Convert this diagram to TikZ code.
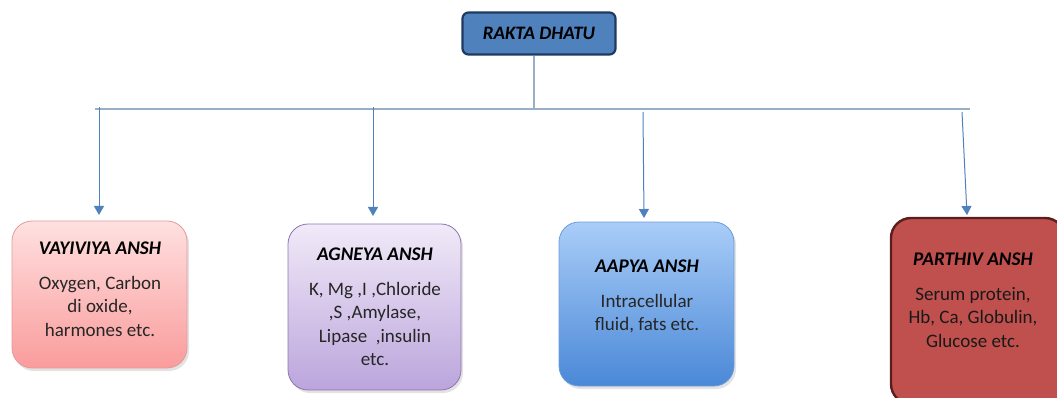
\documentclass[tikz,border=0pt]{standalone}
\usepackage{fontspec}
\setmainfont{Carlito}
\usetikzlibrary{arrows.meta,shadows}
\definecolor{topfill}{HTML}{4F81BD}
\definecolor{topdraw}{HTML}{1F3A60}
\definecolor{linegray}{HTML}{98AFC6}
\definecolor{dropblue}{HTML}{4F81BD}
\definecolor{pinktop}{HTML}{FFE0E0}
\definecolor{pinkbot}{HTML}{FA9C9C}
\definecolor{pinkdraw}{HTML}{E49A9A}
\definecolor{lavtop}{HTML}{F1EAF8}
\definecolor{lavbot}{HTML}{BBA5DC}
\definecolor{lavdraw}{HTML}{8E74B2}
\definecolor{bluetop}{HTML}{A9CDF8}
\definecolor{bluebot}{HTML}{4A88D7}
\definecolor{bluedraw}{HTML}{6C9DDA}
\definecolor{redfill}{HTML}{C0504D}
\definecolor{reddraw}{HTML}{5A1E1D}
\tikzset{
  boxbase/.style={rectangle, rounded corners=20pt, inner sep=0pt,
    drop shadow={opacity=0.22, shadow xshift=2pt, shadow yshift=-3pt}},
  ttl/.style={font=\fontsize{19.3}{23}\selectfont\bfseries\itshape, text=black, inner sep=0pt},
  body/.style={font=\fontsize{19}{23.5}\selectfont, align=center, text=black!85, inner sep=0pt, anchor=north},
  bus/.style={draw=linegray, line width=2pt},
  drop/.style={draw=dropblue, line width=1pt, -{Triangle[length=9pt,width=10pt]}}
}
\begin{document}
\begin{tikzpicture}[x=1pt,y=-1pt]
\useasboundingbox (0,0) rectangle (1057,398);
\clip (0,0) rectangle (1057,398);

% top node
\node[rectangle, rounded corners=6pt, fill=topfill, draw=topdraw, line width=2.2pt,
      minimum width=153pt, minimum height=42pt, inner sep=0pt] (top) at (539,33.5)
      {\fontsize{19}{23}\selectfont\bfseries\itshape RAKTA DHATU};

% boxes
\node[boxbase, top color=pinktop, bottom color=pinkbot, draw=pinkdraw, line width=0.8pt,
      minimum width=175pt, minimum height=147pt] (b1) at (99.5,294.5) {};
\node[boxbase, top color=lavtop, bottom color=lavbot, draw=lavdraw, line width=0.8pt,
      minimum width=173pt, minimum height=166pt] (b2) at (374.5,307) {};
\node[boxbase, top color=bluetop, bottom color=bluebot, draw=bluedraw, line width=0.8pt,
      minimum width=175pt, minimum height=164pt] (b3) at (646.5,304) {};
\node[boxbase, fill=redfill, draw=reddraw, line width=2.4pt,
      minimum width=174pt, minimum height=186pt] (b4) at (978,311) {};

% texts
\node[ttl] (t1) at (100,248) {VAYIVIYA ANSH};
\node[body] (x1) at (100,276) {Oxygen, Carbon\\di oxide,\\harmones etc.};
\node[ttl] (t2) at (375,254) {AGNEYA ANSH};
\node[body] (x2) at (375,282) {K, Mg ,I ,Chloride\\,S ,Amylase,\\Lipase\ \ ,insulin\\etc.};
\node[ttl] (t3) at (647,266) {AAPYA ANSH};
\node[body] (x3) at (647,294) {Intracellular\\fluid, fats etc.};
\node[ttl] (t4) at (973,259) {PARTHIV ANSH};
\node[body, text=black!90] (x4) at (973,287) {Serum protein,\\Hb, Ca, Globulin,\\Glucose etc.};

% connectors
\coordinate (hub) at (534,109);
\coordinate (hl) at (95,109);
\coordinate (hr) at (970,109);
\coordinate (d1) at (99,107);
\coordinate (d2) at (373,107);
\coordinate (d3) at (643,112);
\coordinate (d4) at (962,112);
\coordinate (e1) at (99,215);
\coordinate (e2) at (373,216);
\coordinate (e3) at (644,218);
\coordinate (e4) at (967,215);

\draw[bus] (top.south -| hub) -- (hub);
\draw[bus] (hl) -- (hr);
\draw[drop] (d1) -- (e1);
\draw[drop] (d2) -- (e2);
\draw[drop] (d3) -- (e3);
\draw[drop] (d4) -- (e4);
\end{tikzpicture}
\end{document}
